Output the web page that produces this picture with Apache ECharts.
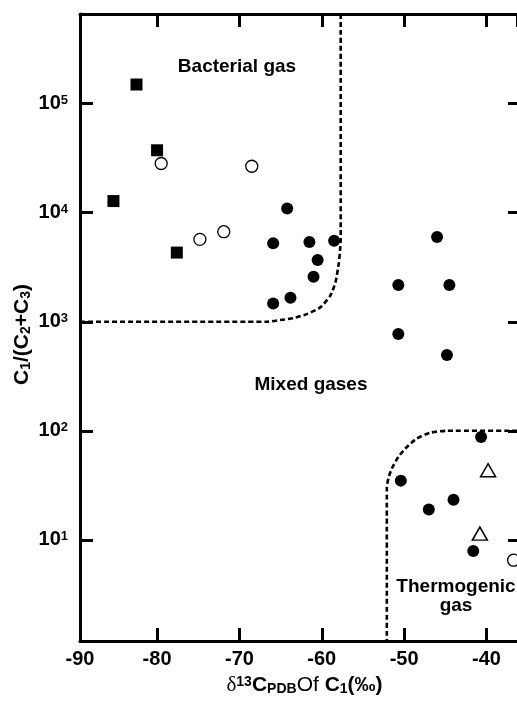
<!DOCTYPE html>
<html>
<head>
<meta charset="utf-8">
<script src="https://cdn.jsdelivr.net/npm/echarts@6/dist/echarts.min.js"></script>
<style>
html,body{margin:0;padding:0;background:#fff;}
#chart{width:517px;height:701px;}
</style>
</head>
<body>
<div id="chart"></div>
<script>
// ---- data ----
const squareX = [-82.5, -80.0, -85.3, -77.6];
const squareY = [150000, 37400, 12800, 4310];

const openCircleX = [-79.5, -68.5, -74.8, -71.9, -36.7];
const openCircleY = [28300, 26700, 5700, 6700, 6.5];

const dotX = [-64.2, -65.9, -61.5, -58.5, -60.5, -61.0, -63.8, -65.9,
              -46.0, -50.7, -44.5, -50.7, -44.8,
              -40.65, -50.4, -47.0, -44.0, -41.6];
const dotY = [10960, 5250, 5390, 5530, 3690, 2590, 1660, 1470,
              5990, 2170, 2170, 772, 496,
              87.7, 34.9, 19.0, 23.3, 7.9];

const triangleX = [-39.8, -40.8];
const triangleY = [43.4, 11.4];

const xMin = -89.36, xMax = -36.29;
const yMin = 1.18, yMax = 665000;

// region boundaries
const bacterialX = [-57.7, -57.7, -57.77, -57.92, -58.34, -58.98, -60.19, -61.81, -63.44, -65.05, -66.66, -89.36];
const bacterialY = [665000, 5700, 4630, 3490, 2290, 1730, 1355, 1176, 1081, 1036, 1000, 1000];

const thermoX = [-36.29, -44.81, -46.84, -48.46, -49.67, -50.69, -51.49, -51.90, -52.10, -52.10];
const thermoY = [100, 100, 96, 85, 71, 57.7, 45, 37, 29.6, 1.18];

const xTickLabels = ['-90', '-80', '-70', '-60', '-50', '-40'];
const regionLabels = ['Bacterial gas', 'Mixed gases', 'Thermogenic\ngas'];

// ---- chart ----
const FONT = '"Liberation Sans", Arial, Helvetica, sans-serif';
const zip = (xs, ys) => xs.map((x, i) => [x, ys[i]]);

function xLabel(v) {
  for (const t of xTickLabels) {
    if (Math.abs(v - Number(t)) < 1) return t;
  }
  return '';
}
function yLabel(v) {
  const l = Math.log10(v);
  const e = Math.round(l);
  if (Math.abs(l - e) > 1e-6) return '';
  return '{b|10}{s|' + e + '}';
}

const axisLineStyle = { show: true, onZero: false, lineStyle: { color: '#000', width: 3 } };
const tickStyle = { show: true, inside: true, length: 13, lineStyle: { color: '#000', width: 3 } };

const chart = echarts.init(document.getElementById('chart'), null, { renderer: 'canvas' });
chart.setOption({
  animation: false,
  backgroundColor: '#fff',
  grid: { left: 80, right: 0, top: 14, bottom: 58, containLabel: false },
  xAxis: [
    {
      type: 'value', position: 'bottom', min: xMin, max: xMax, splitNumber: 5,
      axisLine: axisLineStyle, axisTick: tickStyle, splitLine: { show: false },
      axisLabel: {
        show: true, showMinLabel: true, showMaxLabel: false, margin: 8,
        formatter: xLabel, color: '#000', fontFamily: FONT, fontWeight: 'bold', fontSize: 20
      },
      name: '{d|δ}{sup|13}{m|C}{sub|PDB}{n|Of }{m|C}{sub|1}{m|(‰)}',
      nameLocation: 'middle', nameGap: 34,
      nameTextStyle: {
        color: '#000', fontFamily: FONT, padding: [0, 0, 0, 12],
        rich: {
          d: { fontFamily: '"Liberation Serif", "DejaVu Serif", serif', fontSize: 21, fontWeight: 'normal', color: '#000' },
          sup: { fontFamily: FONT, fontSize: 14, fontWeight: 'bold', verticalAlign: 'top', color: '#000' },
          m: { fontFamily: FONT, fontSize: 21, fontWeight: 'bold', color: '#000' },
          sub: { fontFamily: FONT, fontSize: 14, fontWeight: 'bold', verticalAlign: 'bottom', color: '#000' },
          n: { fontFamily: FONT, fontSize: 21, fontWeight: 'normal', color: '#000' }
        }
      }
    },
    {
      type: 'value', position: 'top', min: xMin, max: xMax, splitNumber: 5,
      axisLine: axisLineStyle, axisTick: tickStyle, splitLine: { show: false },
      axisLabel: { show: false }
    }
  ],
  yAxis: [
    {
      type: 'log', logBase: 10, position: 'left', min: yMin, max: yMax,
      axisLine: axisLineStyle, axisTick: tickStyle, splitLine: { show: false },
      minorTick: { show: false },
      axisLabel: {
        show: true, margin: 12, formatter: yLabel,
        rich: {
          b: { fontFamily: FONT, fontSize: 20, fontWeight: 'bold', color: '#000' },
          s: { fontFamily: FONT, fontSize: 13, fontWeight: 'bold', color: '#000', verticalAlign: 'top' }
        }
      },
      name: '{m|C}{sub|1}{m|/(C}{sub|2}{m|+C}{sub|3}{m|)}',
      nameLocation: 'middle', nameGap: 47, nameMoveOverlap: false,
      nameTextStyle: {
        color: '#000', padding: [0, 14, 0, 0],
        rich: {
          m: { fontFamily: FONT, fontSize: 21, fontWeight: 'bold', color: '#000' },
          sub: { fontFamily: FONT, fontSize: 14, fontWeight: 'bold', verticalAlign: 'bottom', color: '#000' }
        }
      }
    },
    {
      type: 'log', logBase: 10, position: 'right', min: yMin, max: yMax,
      axisLine: { show: false },
      axisTick: { show: true, inside: true, length: 9, lineStyle: { color: '#000', width: 3 } },
      splitLine: { show: false },
      axisLabel: { show: false }
    }
  ],
  series: [
    {
      type: 'line', name: 'bacterial boundary', data: zip(bacterialX, bacterialY),
      showSymbol: false, symbol: 'none', smooth: 0.2, silent: true,
      lineStyle: { color: '#000', width: 2.6, type: [5, 3] }, z: 1
    },
    {
      type: 'line', name: 'thermogenic boundary', data: zip(thermoX, thermoY),
      showSymbol: false, symbol: 'none', smooth: 0.2, silent: true,
      lineStyle: { color: '#000', width: 2.6, type: [5, 3] }, z: 1
    },
    {
      type: 'scatter', name: 'squares', data: zip(squareX, squareY),
      symbol: 'rect', symbolSize: 12, itemStyle: { color: '#000', opacity: 1 }, z: 3
    },
    {
      type: 'scatter', name: 'open circles', data: zip(openCircleX, openCircleY),
      symbol: 'circle', symbolSize: 12, clip: false,
      itemStyle: { color: '#fff', borderColor: '#000', borderWidth: 1.3, opacity: 1 }, z: 3
    },
    {
      type: 'scatter', name: 'dots', data: zip(dotX, dotY),
      symbol: 'circle', symbolSize: 12, itemStyle: { color: '#000', opacity: 1 }, z: 3
    },
    {
      type: 'scatter', name: 'triangles', data: zip(triangleX, triangleY),
      symbol: 'triangle', symbolSize: [15, 13],
      itemStyle: { color: '#fff', borderColor: '#000', borderWidth: 1.5, opacity: 1 }, z: 3
    }
  ],
  graphic: [
    { type: 'text', style: { text: regionLabels[0], textAlign: 'center', textVerticalAlign: 'middle',
      font: 'bold 19px ' + FONT, fill: '#000' }, position: [237, 67], silent: true },
    { type: 'text', style: { text: regionLabels[1], textAlign: 'center', textVerticalAlign: 'middle',
      font: 'bold 19px ' + FONT, fill: '#000' }, position: [311, 385], silent: true },
    { type: 'text', style: { text: regionLabels[2], textAlign: 'center', textVerticalAlign: 'middle',
      font: 'bold 19px ' + FONT, fill: '#000', lineHeight: 19 }, position: [456, 596], silent: true }
  ]
});
</script>
</body>
</html>
